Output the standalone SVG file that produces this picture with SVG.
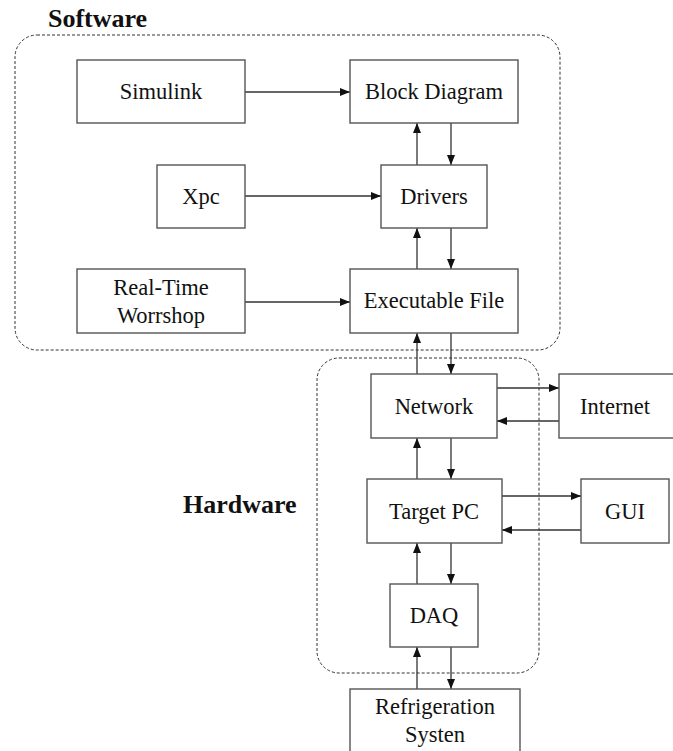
<svg xmlns="http://www.w3.org/2000/svg" width="673" height="751" viewBox="0 0 673 751" font-family="'Liberation Serif', Tinos, 'DejaVu Serif', serif">
<style>
.box{fill:#fff;stroke:#555;stroke-width:1.4}
.grp{fill:none;stroke:#333;stroke-width:1;stroke-dasharray:3 2}
.t{font-family:'Liberation Serif', Tinos, 'DejaVu Serif', serif;font-size:22.5px;fill:#111;text-anchor:middle}
.h{font-family:'Liberation Serif', Tinos, 'DejaVu Serif', serif;font-size:26px;font-weight:bold;fill:#111}
.c{fill:none;stroke:#333;stroke-width:1.3;marker-end:url(#ah)}
</style>
<defs>
<marker id="ah" viewBox="0 0 10 8" refX="10" refY="4" markerWidth="10" markerHeight="8" markerUnits="userSpaceOnUse" orient="auto">
<path d="M0,0 L10,4 L0,8 Z" fill="#111"/>
</marker>
</defs>
<rect x="0" y="0" width="673" height="751" fill="#fff"/>
<g id="software-group">
<rect class="grp" x="15" y="35" width="545" height="315" rx="22" ry="22"/>
<text class="h" x="48" y="27">Software</text>
</g>
<g id="hardware-group">
<rect class="grp" x="317" y="358" width="222" height="315" rx="22" ry="22"/>
<text class="h" x="183" y="513">Hardware</text>
</g>
<g id="connectors">
<line class="c" x1="245" y1="92" x2="350" y2="92"/>
<line class="c" x1="245" y1="196" x2="381" y2="196"/>
<line class="c" x1="245" y1="302" x2="350" y2="302"/>
<line class="c" x1="417" y1="165" x2="417" y2="123"/>
<line class="c" x1="451" y1="123" x2="451" y2="165"/>
<line class="c" x1="417" y1="269" x2="417" y2="228"/>
<line class="c" x1="451" y1="228" x2="451" y2="269"/>
<line class="c" x1="417" y1="374" x2="417" y2="333"/>
<line class="c" x1="451" y1="333" x2="451" y2="374"/>
<line class="c" x1="497" y1="388" x2="559" y2="388"/>
<line class="c" x1="559" y1="421" x2="497" y2="421"/>
<line class="c" x1="417" y1="479" x2="417" y2="438"/>
<line class="c" x1="451" y1="438" x2="451" y2="479"/>
<line class="c" x1="502" y1="496" x2="581" y2="496"/>
<line class="c" x1="581" y1="530" x2="502" y2="530"/>
<line class="c" x1="417" y1="584" x2="417" y2="543"/>
<line class="c" x1="451" y1="543" x2="451" y2="584"/>
<line class="c" x1="417" y1="689" x2="417" y2="647"/>
<line class="c" x1="451" y1="647" x2="451" y2="689"/>
</g>
<g id="simulink">
<rect class="box" x="77" y="60" width="168" height="63"/>
<text class="t" x="161" y="99">Simulink</text>
</g>
<g id="block-diagram">
<rect class="box" x="350" y="60" width="168" height="63"/>
<text class="t" x="434" y="99">Block Diagram</text>
</g>
<g id="xpc">
<rect class="box" x="157" y="165" width="88" height="63"/>
<text class="t" x="201" y="204">Xpc</text>
</g>
<g id="drivers">
<rect class="box" x="381" y="165" width="106" height="63"/>
<text class="t" x="434" y="204">Drivers</text>
</g>
<g id="real-time-workshop">
<rect class="box" x="77" y="269" width="168" height="64"/>
<text class="t" x="161" y="295">Real-Time</text>
<text class="t" x="161" y="323">Worrshop</text>
</g>
<g id="executable-file">
<rect class="box" x="350" y="269" width="168" height="64"/>
<text class="t" x="434" y="308">Executable File</text>
</g>
<g id="network">
<rect class="box" x="371" y="374" width="126" height="64"/>
<text class="t" x="434" y="414">Network</text>
</g>
<g id="internet">
<rect class="box" x="559" y="374" width="120" height="64"/>
<text class="t" x="615" y="414">Internet</text>
</g>
<g id="target-pc">
<rect class="box" x="367" y="479" width="135" height="64"/>
<text class="t" x="434" y="519">Target PC</text>
</g>
<g id="gui">
<rect class="box" x="581" y="479" width="88" height="64"/>
<text class="t" x="625" y="519">GUI</text>
</g>
<g id="daq">
<rect class="box" x="390" y="584" width="88" height="63"/>
<text class="t" x="434" y="623">DAQ</text>
</g>
<g id="refrigeration-system">
<rect class="box" x="350" y="689" width="170" height="80"/>
<text class="t" x="435" y="714">Refrigeration</text>
<text class="t" x="435" y="742">Systen</text>
</g>
</svg>
